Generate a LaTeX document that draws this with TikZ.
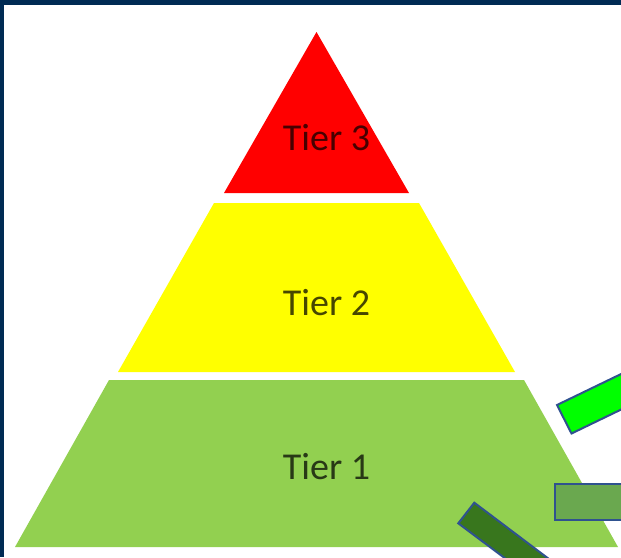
\documentclass[tikz,border=0pt]{standalone}
\usepackage{fontspec}
\setmainfont{Carlito}
\definecolor{navy}{HTML}{002B54}
\definecolor{tierred}{HTML}{FF0000}
\definecolor{tieryellow}{HTML}{FFFF00}
\definecolor{tiergreen}{HTML}{92D050}
\definecolor{brightgreen}{HTML}{00FF00}
\definecolor{midgreen}{HTML}{6AA84F}
\definecolor{darkgreen}{HTML}{38761D}
\definecolor{outline}{HTML}{2F528F}
\begin{document}
\begin{tikzpicture}[x=1pt,y=-1pt,
  tierlabel/.style={anchor=base,font=\fontsize{38}{40}\selectfont,text=black,text opacity=0.72,inner sep=0pt},
  bar/.style={draw=outline,line width=2pt,line join=miter}]
\useasboundingbox (0,0) rectangle (621,557);
\fill[white] (0,0) rectangle (621,557);
\begin{scope}
\clip (0,0) rectangle (621,557);
% pyramid
\fill[tierred] (316.5,32) -- (409,193) -- (224,193) -- cycle;
\fill[tieryellow] (214,203) -- (419,203) -- (515,372) -- (118,372) -- cycle;
\fill[tiergreen] (109,380) -- (524,380) -- (618,547) -- (15,547) -- cycle;
\node[tierlabel] (t3) at (326.5,150) {Tier 3};
\node[tierlabel] (t2) at (326.5,315) {Tier 2};
\node[tierlabel] (t1) at (326.5,479) {Tier 1};
% bars
\filldraw[bar,fill=brightgreen] (557,405) -- (737,318) -- (751.5,346.5) -- (571.5,433.5) -- cycle;
\filldraw[bar,fill=midgreen] (555,483.5) rectangle (700,519.5);
\filldraw[bar,fill=darkgreen] (474.3,502.7) -- (594,593) -- (578,613) -- (458.3,523.3) -- cycle;
% frame
\fill[navy] (0,0) rectangle (621,5);
\fill[navy] (0,0) rectangle (4,557);
\end{scope}
\end{tikzpicture}
\end{document}
